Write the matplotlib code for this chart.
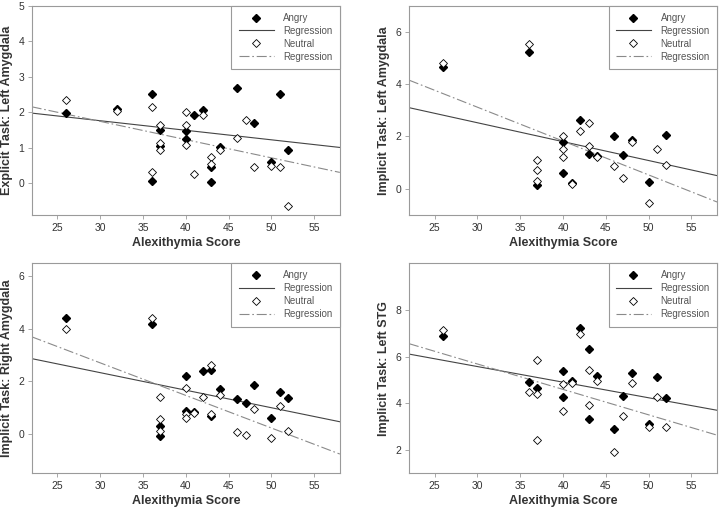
import numpy as np
import matplotlib
matplotlib.use('Agg')
import matplotlib.pyplot as plt

plt.rcParams['font.family'] = ['Liberation Sans', 'DejaVu Sans']

# panel titles (y labels) and axis setup
Y_LABELS = ['Explicit Task: Left Amygdala', 'Implicit Task: Left Amygdala',
            'Implicit Task: Right Amygdala', 'Implicit Task: Left STG']
Y_LIMS = [(-0.9, 5), (-1, 7), (-1.5, 6.5), (1, 10)]
Y_TICKS = [[0, 1, 2, 3, 4, 5], [0, 2, 4, 6], [0, 2, 4, 6], [2, 4, 6, 8]]
X_TICKS = [25, 30, 35, 40, 45, 50, 55]

# Explicit task, left amygdala
p1_angry_x = [26, 32, 36, 36, 37, 37, 40, 40, 41, 42, 43, 43, 44, 46, 48, 50, 51, 52]
p1_angry_y = [1.98, 2.08, 2.52, 0.06, 1.50, 1.03, 1.47, 1.25, 1.91, 2.07, 0.46, 0.04,
              1.01, 2.68, 1.69, 0.60, 2.50, 0.94]
p1_neutral_x = [26, 32, 36, 36, 37, 37, 37, 40, 40, 40, 41, 42, 43, 43, 44, 46, 47, 48,
                50, 51, 52]
p1_neutral_y = [2.33, 2.03, 2.13, 0.32, 1.64, 1.14, 0.94, 1.99, 1.64, 1.08, 0.25, 1.91,
                0.72, 0.53, 0.94, 1.27, 1.77, 0.46, 0.49, 0.46, -0.65]

# Implicit task, left amygdala
p2_angry_x = [26, 36, 37, 40, 40, 41, 42, 43, 44, 46, 47, 48, 50, 52]
p2_angry_y = [4.64, 5.22, 0.13, 1.77, 0.60, 0.24, 2.61, 1.34, 1.26, 2.00, 1.29, 1.87,
              0.27, 2.07]
p2_neutral_x = [26, 36, 37, 37, 37, 40, 40, 40, 41, 42, 43, 43, 44, 46, 47, 48, 50, 51, 52]
p2_neutral_y = [4.79, 5.52, 1.11, 0.73, 0.28, 2.00, 1.52, 1.21, 0.20, 2.21, 2.51, 1.62,
                1.21, 0.88, 0.41, 1.77, -0.56, 1.53, 0.89]

# Implicit task, right amygdala
p3_angry_x = [26, 36, 37, 37, 40, 40, 41, 42, 43, 43, 44, 46, 47, 48, 50, 51, 52]
p3_angry_y = [4.40, 4.20, 0.32, -0.09, 2.20, 0.89, 0.85, 2.39, 2.42, 0.70, 1.70, 1.35,
              1.17, 1.87, 0.60, 1.60, 1.39]
p3_neutral_x = [26, 36, 37, 37, 37, 40, 40, 40, 41, 42, 43, 43, 44, 46, 47, 48, 50, 51, 52]
p3_neutral_y = [3.99, 4.43, 1.40, 0.57, 0.13, 1.76, 0.76, 0.61, 0.82, 1.40, 2.63, 0.78,
                1.50, 0.06, -0.04, 0.95, -0.14, 1.08, 0.13]

# Implicit task, left STG
p4_angry_x = [26, 36, 37, 40, 40, 41, 42, 43, 43, 44, 46, 47, 48, 50, 51, 52]
p4_angry_y = [6.87, 4.93, 4.65, 5.39, 4.29, 4.96, 7.22, 6.33, 3.33, 5.16, 2.89, 4.33,
              5.29, 3.13, 5.15, 4.24]
p4_neutral_x = [26, 36, 37, 37, 37, 40, 40, 41, 42, 43, 43, 44, 46, 47, 48, 50, 51, 52]
p4_neutral_y = [7.15, 4.47, 5.84, 4.40, 2.45, 4.82, 3.66, 4.87, 6.97, 5.43, 3.93, 4.96,
                1.93, 3.48, 4.89, 2.99, 4.26, 2.97]

# regression lines (intercept, slope)
angry_fit = [(2.563, -0.0269), (4.69, -0.0722), (4.337, -0.0667), (7.58, -0.0668)]
neutral_fit = [(3.28, -0.0514), (7.00, -0.1294), (6.426, -0.1239), (8.95, -0.1088)]

panels = [
    (p1_angry_x, p1_angry_y, p1_neutral_x, p1_neutral_y),
    (p2_angry_x, p2_angry_y, p2_neutral_x, p2_neutral_y),
    (p3_angry_x, p3_angry_y, p3_neutral_x, p3_neutral_y),
    (p4_angry_x, p4_angry_y, p4_neutral_x, p4_neutral_y),
]

positions = [
    [0.044, 0.581, 0.428, 0.408],
    [0.568, 0.581, 0.428, 0.408],
    [0.044, 0.077, 0.428, 0.410],
    [0.568, 0.077, 0.428, 0.410],
]

SPINE = '#9a9a9a'
TEXT = '#333333'
XLIM = (22, 58)

fig = plt.figure(figsize=(7.2, 5.13), dpi=100)

for i, (ax_x, ax_y, nx, ny) in enumerate(panels):
    ax = fig.add_axes(positions[i])
    xs = np.array(XLIM)
    b0, b1 = angry_fit[i]
    n0, n1 = neutral_fit[i]
    ax.plot(ax_x, ax_y, linestyle='none', marker='D', ms=3.6, color='black',
            label='Angry', zorder=3)
    ax.plot(xs, b0 + b1 * xs, color='#444444', lw=0.8, label='Regression', zorder=2)
    ax.plot(nx, ny, linestyle='none', marker='D', ms=3.6, mfc='white', mec='black',
            mew=0.6, label='Neutral', zorder=4)
    ax.plot(xs, n0 + n1 * xs, color='#8a8a8a', lw=0.8, dashes=(9, 2.5, 1.5, 2.5),
            label='Regression', zorder=2)

    ax.set_xlim(*XLIM)
    ax.set_ylim(*Y_LIMS[i])
    ax.set_xticks(X_TICKS)
    ax.set_yticks(Y_TICKS[i])
    for sp in ax.spines.values():
        sp.set_color(SPINE)
        sp.set_linewidth(0.8)
    ax.tick_params(colors=SPINE, labelcolor=TEXT, labelsize=7.5, length=3, width=0.6,
                   pad=2.5)
    ax.set_xlabel('Alexithymia Score', fontsize=9, fontweight='bold', color=TEXT,
                  labelpad=3)
    ax.set_ylabel(Y_LABELS[i], fontsize=9, fontweight='bold', color=TEXT, labelpad=4)

    leg = ax.legend(loc='upper right', borderaxespad=0, fancybox=False, framealpha=1,
                    fontsize=7, labelcolor='#555555', handlelength=3.6,
                    handletextpad=1.0, borderpad=0.75, labelspacing=0.3)
    leg.get_frame().set_edgecolor(SPINE)
    leg.get_frame().set_linewidth(0.8)

fig.savefig('out.png', dpi=100)
